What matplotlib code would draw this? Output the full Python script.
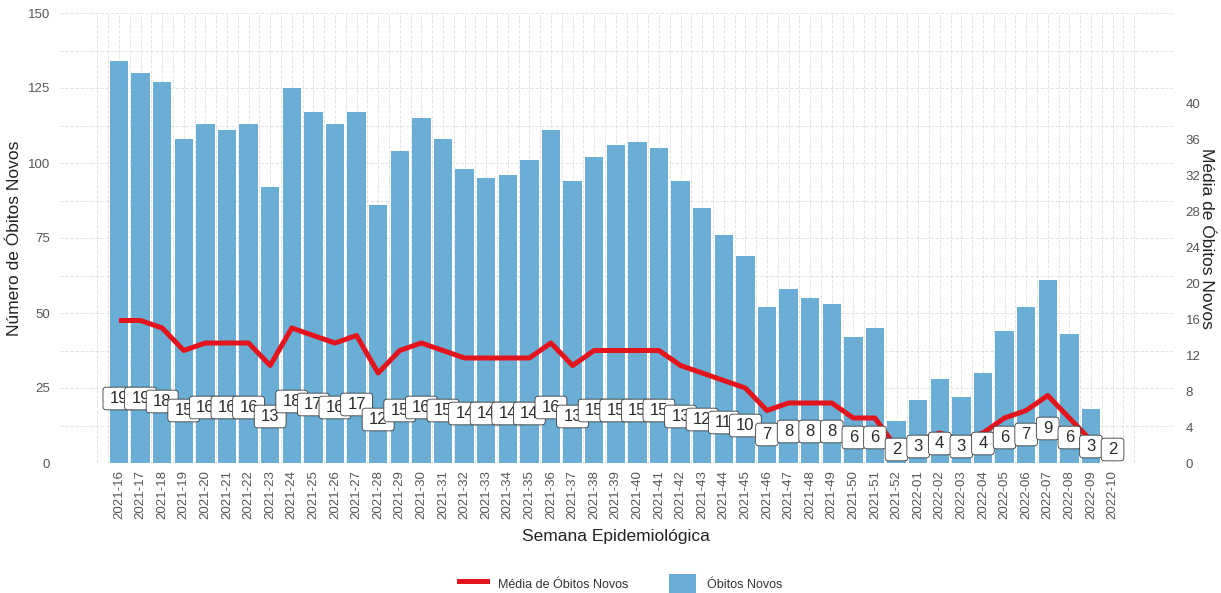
import numpy as np
import matplotlib
matplotlib.use('Agg')
import matplotlib.pyplot as plt
from matplotlib.patches import BoxStyle, Patch
from matplotlib.lines import Line2D

plt.rcParams['font.family'] = ['Liberation Sans', 'DejaVu Sans']

semanas = ['2021-16', '2021-17', '2021-18', '2021-19', '2021-20', '2021-21', '2021-22', '2021-23',
           '2021-24', '2021-25', '2021-26', '2021-27', '2021-28', '2021-29', '2021-30', '2021-31',
           '2021-32', '2021-33', '2021-34', '2021-35', '2021-36', '2021-37', '2021-38', '2021-39',
           '2021-40', '2021-41', '2021-42', '2021-43', '2021-44', '2021-45', '2021-46', '2021-47',
           '2021-48', '2021-49', '2021-50', '2021-51', '2021-52', '2022-01', '2022-02', '2022-03',
           '2022-04', '2022-05', '2022-06', '2022-07', '2022-08', '2022-09', '2022-10']

obitos = [134, 130, 127, 108, 113, 111, 113, 92, 125, 117,
          113, 117, 86, 104, 115, 108, 98, 95, 96, 101,
          111, 94, 102, 106, 107, 105, 94, 85, 76, 69,
          52, 58, 55, 53, 42, 45, 14,
          21, 28, 22, 30, 44, 52, 61, 43, 18, 0]

media = [19, 19, 18, 15, 16, 16, 16, 13, 18, 17,
         16, 17, 12, 15, 16, 15, 14, 14, 14, 14,
         16, 13, 15, 15, 15, 15, 13, 12, 11, 10,
         7, 8, 8, 8, 6, 6, 2,
         3, 4, 3, 4, 6, 7, 9, 6, 3, 2]

escala_linha = 2.5   # linha da media desenhada em escala ampliada
escala_eixo = 3      # eixo secundario = eixo principal / 3

cor_barra = '#6AADD5'
cor_linha = '#E3141B'
cinza = '#555555'
W, H = 1221, 593

x = np.arange(len(semanas))
media = np.array(media)


def caixa_label(x0, y0, width, height, mutation_size):
    # caixa arredondada com mais folga na horizontal
    px, py = 0.40 * mutation_size, 0.23 * mutation_size
    return BoxStyle.Round(pad=0, rounding_size=0.2)(
        x0 - px, y0 - py, width + 2 * px, height + 2 * py, mutation_size)


fig = plt.figure(figsize=(W / 100, H / 100), dpi=100)
ax = fig.add_axes([60 / W, 1 - 463 / H, (1173 - 60) / W, (463 - 13) / H])

# grade
for gx in np.arange(-1, 47.01, 0.5):
    ax.axvline(gx, color='#dedede', lw=0.6, ls=(0, (4, 2)), zorder=0)
for gy in np.arange(0, 150.01, 12.5):
    ax.axhline(gy, color='#dedede', lw=0.6, ls=(0, (4, 2)), zorder=0)

ax.bar(x, obitos, width=0.85, color=cor_barra, zorder=2)
ax.plot(x, media * escala_linha, color=cor_linha, lw=3.6, solid_joinstyle='round',
        solid_capstyle='butt', zorder=3)

for xi, m in zip(x, media):
    ax.text(xi, m, str(m), ha='center', va='bottom', fontsize=12, color='#2b2b2b', zorder=4,
            bbox=dict(boxstyle=caixa_label, fc='white', ec='#3a3a3a', lw=0.6))

ax.set_xlim(-2.73, 48.8)
ax.set_ylim(0, 150)
ax.set_xticks(x)
ax.set_xticklabels(semanas, rotation=90, fontsize=9.5, color=cinza)
ax.set_yticks(np.arange(0, 151, 25))
ax.tick_params(axis='x', length=0, pad=5)
ax.tick_params(axis='y', length=0, pad=7, labelsize=9.5, labelcolor=cinza)
for s in ax.spines.values():
    s.set_visible(False)

ax2 = ax.twinx()
ax2.set_ylim(0, 150 / escala_eixo)
ax2.set_yticks(np.arange(0, 41, 4))
ax2.tick_params(axis='y', length=0, pad=9, labelsize=9.5, labelcolor=cinza)
for s in ax2.spines.values():
    s.set_visible(False)

fig.text(15 / W, 1 - 238 / H, 'Número de Óbitos Novos', rotation=90, ha='center', va='center',
         fontsize=12.5, color='#222222')
fig.text(1207 / W, 1 - 238 / H, 'Média de Óbitos Novos', rotation=270, ha='center', va='center',
         fontsize=12.5, color='#222222')
fig.text(616 / W, 1 - 536 / H, 'Semana Epidemiológica', ha='center', va='center',
         fontsize=12.5, color='#222222')

handles = [Line2D([], [], color=cor_linha, lw=3.6),
           Patch(facecolor=cor_barra)]
fig.legend(handles, ['Média de Óbitos Novos', 'Óbitos Novos'], loc='center',
           bbox_to_anchor=(621 / W, 1 - 584 / H), ncol=2, frameon=False, fontsize=9,
           handlelength=2.2, handleheight=2.0, columnspacing=3.2, handletextpad=0.9,
           labelcolor='#333333')

fig.savefig('out.png', dpi=100)
